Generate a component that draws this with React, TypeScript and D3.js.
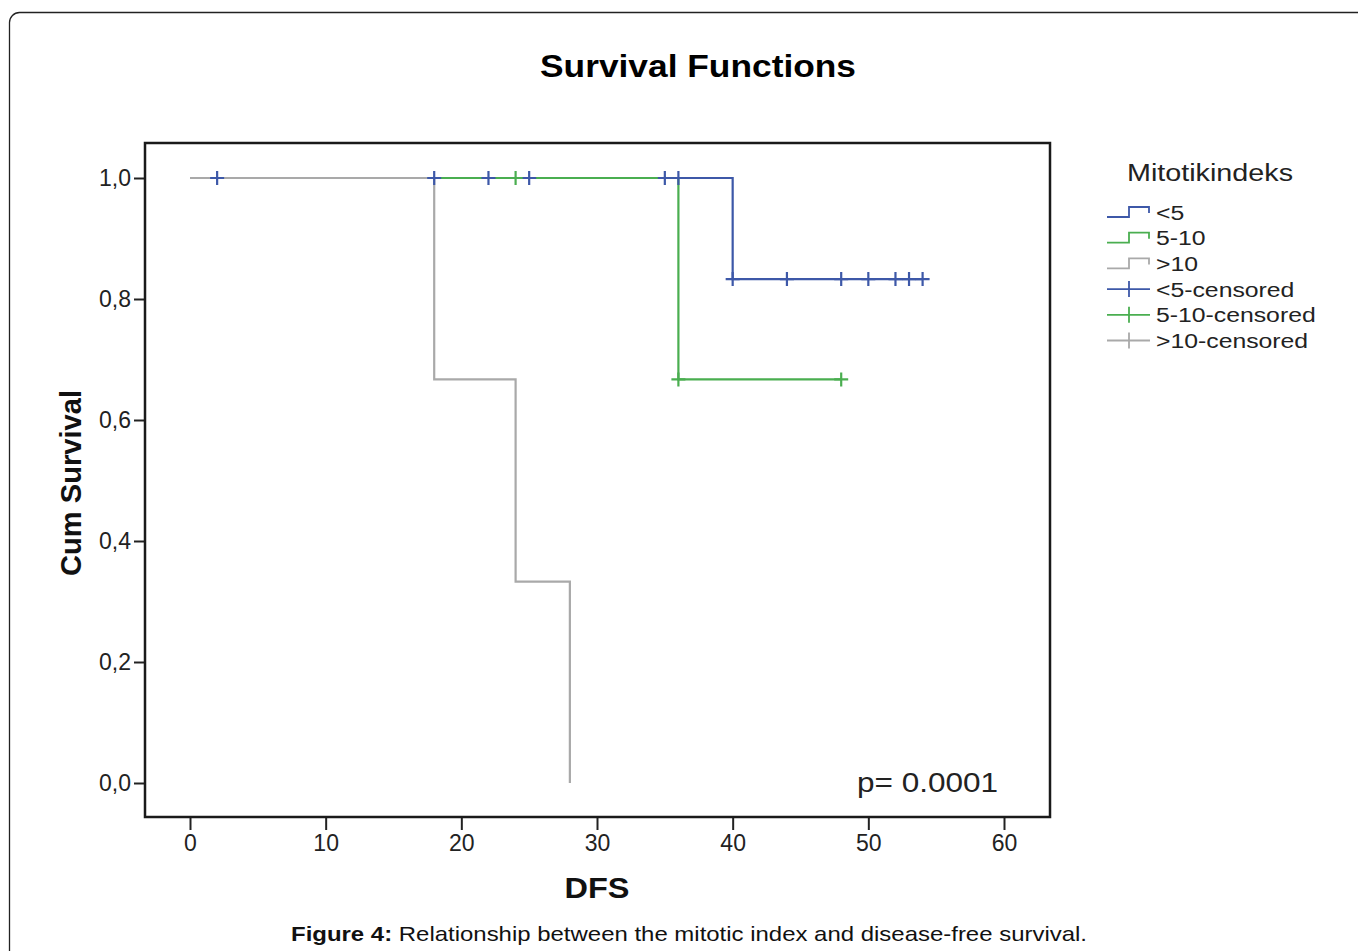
import React, { useEffect, useRef } from 'react'
import * as d3 from 'd3'

const W = 1358
const H = 951

const groupNames = ['<5', '5-10', '>10']
const groupColors = ['#3d58a8', '#4aae50', '#a9a9a9']

// Kaplan-Meier steps: [time, survival from that time on]
const lt5Steps: [number, number][] = [[0, 1], [40, 0.833], [54, 0.833]]
const mid5to10Steps: [number, number][] = [[0, 1], [36, 0.667], [48, 0.667]]
const gt10Steps: [number, number][] = [[0, 1], [18, 0.667], [24, 0.333], [28, 0]]

// censored times
const lt5Censored = [2, 18, 22, 25, 35, 36, 40, 44, 48, 50, 52, 53, 54]
const mid5to10Censored = [24, 36, 48]
const gt10Censored: number[] = []

const xTicks = [0, 10, 20, 30, 40, 50, 60]
const yTicks = [0, 0.2, 0.4, 0.6, 0.8, 1.0]

const FONT = '"Liberation Sans", Arial, sans-serif'

function survAt(steps: [number, number][], t: number) {
    let s = steps[0][1]
    steps.forEach(d => { if (d[0] <= t) s = d[1] })
    return s
}

export default function App() {
    const ref = useRef<SVGSVGElement>(null)

    useEffect(() => {
        const svg = d3.select(ref.current)
        svg.selectAll('*').remove()

        // outer page frame (cropped on right and bottom)
        svg.append('rect')
            .attr('x', 9.5).attr('y', 12.5)
            .attr('width', 1400).attr('height', 1000)
            .attr('rx', 10)
            .attr('fill', 'none').attr('stroke', '#222').attr('stroke-width', 1.3)

        const x = d3.scaleLinear().domain([0, 60]).range([190, 1004])
        const y = d3.scaleLinear().domain([0, 1]).range([783, 178])

        const left = 145, right = 1050, top = 143, bottom = 817

        // title
        svg.append('text')
            .attr('x', 698).attr('y', 77)
            .attr('text-anchor', 'middle')
            .attr('font-family', FONT).attr('font-weight', 'bold').attr('font-size', 32)
            .attr('textLength', 316).attr('lengthAdjust', 'spacingAndGlyphs')
            .text('Survival Functions')

        // axes
        const xAxis = d3.axisBottom(x).tickValues(xTicks).tickSize(12).tickPadding(5)
            .tickFormat(d3.format('d') as any)
        const gx = svg.append('g').attr('transform', `translate(0,${bottom + 1})`).call(xAxis)
        gx.select('.domain').remove()

        const yAxis = d3.axisLeft(y).tickValues(yTicks).tickSize(11).tickPadding(3)
            .tickFormat((d: any) => d3.format('.1f')(d).replace('.', ','))
        const gy = svg.append('g').attr('transform', `translate(${left},0)`).call(yAxis)
        gy.select('.domain').remove()

        svg.selectAll('.tick line').attr('stroke', '#222').attr('stroke-width', 2)
        svg.selectAll('.tick text')
            .attr('font-family', FONT).attr('font-size', 23).attr('fill', '#222')

        // plot frame
        svg.append('rect')
            .attr('x', left).attr('y', top)
            .attr('width', right - left).attr('height', bottom - top)
            .attr('fill', 'none').attr('stroke', '#1a1a1a').attr('stroke-width', 2.5)

        // curves
        const line = d3.line<[number, number]>()
            .x(d => x(d[0])).y(d => y(d[1]))
            .curve(d3.curveStepAfter)

        const series = [
            { steps: lt5Steps, censored: lt5Censored, color: groupColors[0] },
            { steps: mid5to10Steps, censored: mid5to10Censored, color: groupColors[1] },
            { steps: gt10Steps, censored: gt10Censored, color: groupColors[2] },
        ]

        series.forEach(s => {
            svg.append('path')
                .attr('d', line(s.steps))
                .attr('fill', 'none')
                .attr('stroke', s.color)
                .attr('stroke-width', 2.2)
        })

        const plus = (g: any, cx: number, cy: number, color: string) => {
            g.append('path')
                .attr('d', `M${cx - 7},${cy}H${cx + 7}M${cx},${cy - 7}V${cy + 7}`)
                .attr('stroke', color).attr('stroke-width', 2.2).attr('fill', 'none')
        }

        series.forEach(s => {
            s.censored.forEach(t => plus(svg, x(t), y(survAt(s.steps, t)), s.color))
        })

        // p value
        svg.append('text')
            .attr('x', 857).attr('y', 792)
            .attr('font-family', FONT).attr('font-size', 28).attr('fill', '#222')
            .attr('textLength', 141).attr('lengthAdjust', 'spacingAndGlyphs')
            .text('p= 0.0001')

        // axis titles
        svg.append('text')
            .attr('x', 597).attr('y', 898)
            .attr('text-anchor', 'middle')
            .attr('font-family', FONT).attr('font-weight', 'bold').attr('font-size', 30)
            .attr('textLength', 65).attr('lengthAdjust', 'spacingAndGlyphs')
            .attr('fill', '#111')
            .text('DFS')

        svg.append('text')
            .attr('transform', 'translate(81,483) rotate(-90)')
            .attr('text-anchor', 'middle')
            .attr('font-family', FONT).attr('font-weight', 'bold').attr('font-size', 30)
            .attr('textLength', 186).attr('lengthAdjust', 'spacingAndGlyphs')
            .attr('fill', '#111')
            .text('Cum Survival')

        // legend
        const lg = svg.append('g')
        lg.append('text')
            .attr('x', 1127).attr('y', 181)
            .attr('font-family', FONT).attr('font-size', 23).attr('fill', '#222')
            .attr('textLength', 166).attr('lengthAdjust', 'spacingAndGlyphs')
            .text('Mitotikindeks')

        const legendLabels = groupNames.concat(groupNames.map(n => n + '-censored'))
        legendLabels.forEach((label, i) => {
            const cy = 212 + i * 25.7
            const color = groupColors[i % 3]
            if (i < 3) {
                lg.append('path')
                    .attr('d', `M1107,${cy + 5}H1129V${cy - 5}H1149V${cy + 1}`)
                    .attr('fill', 'none').attr('stroke', color).attr('stroke-width', 1.8)
            } else {
                lg.append('path')
                    .attr('d', `M1107,${cy}H1150M1129,${cy - 8}V${cy + 8}`)
                    .attr('fill', 'none').attr('stroke', color).attr('stroke-width', 1.8)
            }
            lg.append('text')
                .attr('transform', `translate(1156,${cy + 7.5}) scale(1.18,1)`)
                .attr('font-family', FONT).attr('font-size', 21).attr('fill', '#222')
                .text(label)
        })

        // caption
        const cap = svg.append('text')
            .attr('x', 689).attr('y', 941)
            .attr('text-anchor', 'middle')
            .attr('font-family', FONT).attr('font-size', 21).attr('fill', '#111')
            .attr('textLength', 796).attr('lengthAdjust', 'spacingAndGlyphs')
        cap.append('tspan').attr('font-weight', 'bold').text('Figure 4:')
        cap.append('tspan').text(' Relationship between the mitotic index and disease-free survival.')
    }, [])

    return (
        <svg ref={ref} width={W} height={H}
            style={{ position: 'absolute', left: 0, top: 0, background: '#fff' }} />
    )
}
